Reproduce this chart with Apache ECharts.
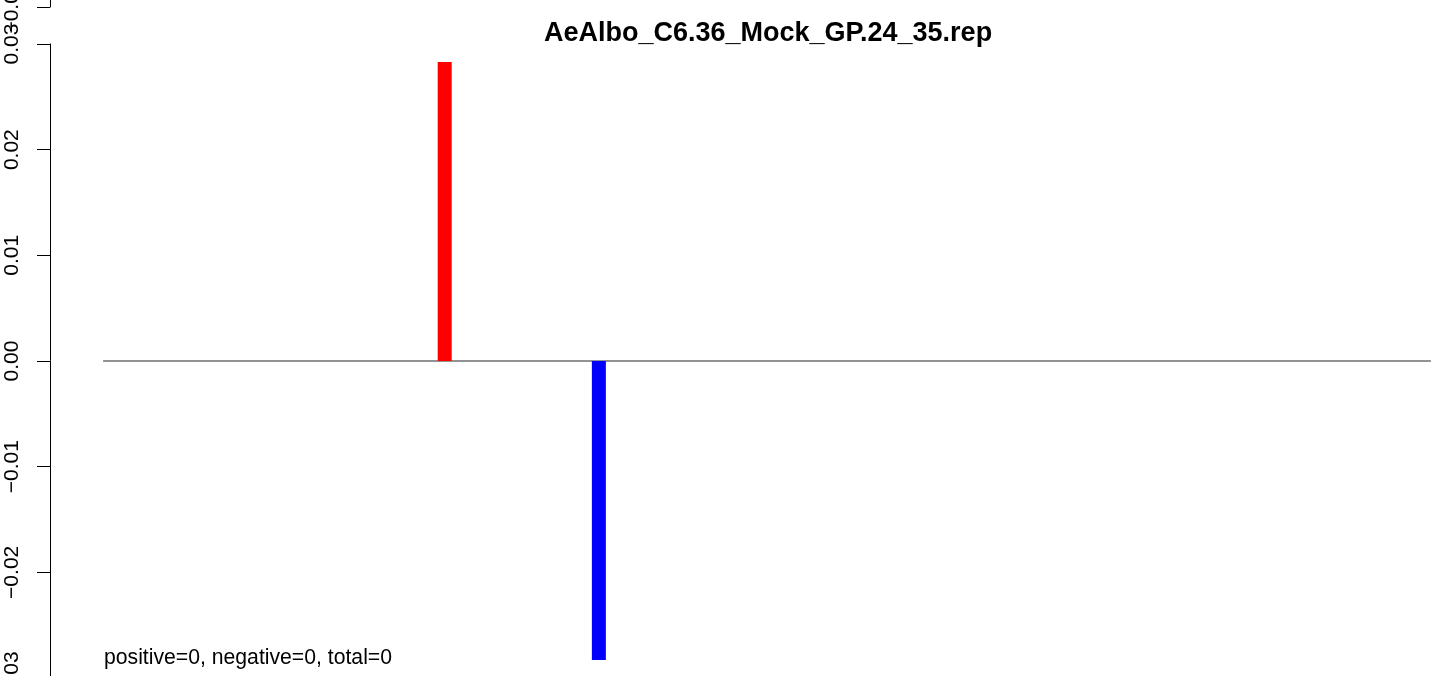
<!DOCTYPE html>
<html>
<head>
<meta charset="utf-8">
<script src="https://cdn.jsdelivr.net/npm/echarts@6/dist/echarts.min.js"></script>
<style>
html,body{margin:0;padding:0;background:#fff;}
#chart{width:1444px;height:676px;}
</style>
</head>
<body>
<div id="chart"></div>
<script>
// ---- data ----
const titleText = 'AeAlbo_C6.36_Mock_GP.24_35.rep';
const statsText = 'positive=0, negative=0, total=0';
const xStart = 1;
const xEnd = 1000;
const baselineX = [xStart, xEnd];
const baselineY = [0, 0];
const posX = [258];
const posY = [0.0283];
const negX = [374];
const negY = [-0.0283];
const yMin = -0.03, yMax = 0.03, yStep = 0.01;

const span = xEnd - xStart;
const xMin = xStart - 0.04 * span;
const xMax = xEnd + 0.04 * span;

const font = 'Liberation Sans, Arial, Helvetica, sans-serif';
const chart = echarts.init(document.getElementById('chart'), null, {renderer: 'canvas'});

const yAxisCommon = {
  type: 'value', min: yMin, max: yMax, interval: yStep,
  axisLine: {show: true, onZero: false, lineStyle: {color: '#000', width: 1}},
  axisTick: {show: true, length: 13, lineStyle: {color: '#000', width: 1}},
  splitLine: {show: false},
  axisLabel: {
    rotate: 90, margin: 27, color: '#000', fontSize: 21, fontFamily: font,
    hideOverlap: false, showMinLabel: true, showMaxLabel: true,
    formatter: v => (v < 0 ? '\u2212' : '') + Math.abs(v).toFixed(2)
  }
};

chart.setOption({
  backgroundColor: '#fff',
  animation: false,
  title: [
    {text: titleText, left: 768, top: 20, textAlign: 'center', padding: 0,
     textStyle: {fontSize: 27, fontWeight: 'bold', color: '#000', fontFamily: font}},
    {text: statsText, left: 104, top: 648, padding: 0,
     textStyle: {fontSize: 21.2, fontWeight: 'normal', color: '#000', fontFamily: font}}
  ],
  grid: [
    {left: 50, top: 44, width: 1434, height: 634, containLabel: false, outerBoundsMode: 'none'},
    {left: 50, top: -627, width: 1434, height: 634, containLabel: false, outerBoundsMode: 'none'}
  ],
  xAxis: [
    {type: 'value', gridIndex: 0, min: xMin, max: xMax, show: false},
    {type: 'value', gridIndex: 1, min: xMin, max: xMax, show: false}
  ],
  yAxis: [
    Object.assign({gridIndex: 0}, yAxisCommon),
    Object.assign({gridIndex: 1}, yAxisCommon)
  ],
  series: [
    {type: 'line', xAxisIndex: 0, yAxisIndex: 0, symbol: 'none',
     data: baselineX.map((x, i) => [x, baselineY[i]]),
     lineStyle: {color: '#6e6e6e', width: 1.5}, z: 1},
    {type: 'bar', xAxisIndex: 0, yAxisIndex: 0, barWidth: 14,
     data: posX.map((x, i) => [x, posY[i]]),
     itemStyle: {color: '#ff0000'}, z: 2},
    {type: 'bar', xAxisIndex: 0, yAxisIndex: 0, barWidth: 14, barGap: '-100%',
     data: negX.map((x, i) => [x, negY[i]]),
     itemStyle: {color: '#0000ff'}, z: 2}
  ]
});
</script>
</body>
</html>
